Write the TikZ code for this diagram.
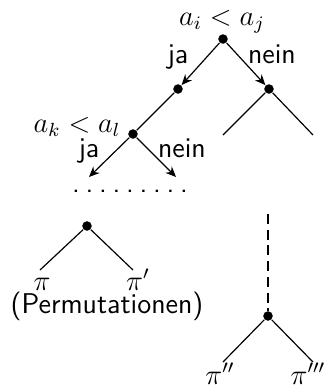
\documentclass[tikz,border=0pt]{standalone}
\usetikzlibrary{arrows.meta, positioning}
\tikzset{
  every picture/.style={font=\sffamily\fontsize{12}{14.4}\selectfont, line width=0.5pt},
  knot/.style={circle, fill=black, inner sep=0pt, minimum size=4pt},
  arrow/.style={-{Stealth[length=4.4pt, width=3.8pt]}},
  lbl/.style={anchor=base, inner sep=0pt},
}
\newcommand{\dotrow}{.\hspace{2.4pt}.\hspace{2.4pt}.\hspace{2.4pt}.\hspace{2.4pt}.\hspace{2.4pt}.\hspace{2.4pt}.\hspace{2.4pt}.\hspace{2.4pt}.}
\begin{document}
\begin{tikzpicture}[x=0.42pt, y=-0.42pt]
  \useasboundingbox (0,0) rectangle (329,385);
  % upper part of the tree
  \node[knot] (root) at (223,39) {};
  \node[knot] (yes1) at (178,89) {};
  \node[knot] (no1) at (269,89) {};
  \node[knot] (cmp2) at (133,134) {};
  \node[lbl] (q1) at (222,25) {$a_i < a_j$};
  \node[lbl] (ja1) at (178,63) {ja};
  \node[lbl] (nein1) at (272,63) {nein};
  \node[lbl] (q2) at (77,132) {$a_k < a_l$};
  \node[lbl] (ja2) at (89,157) {ja};
  \node[lbl] (nein2) at (182,157) {nein};
  \coordinate (no1l) at (223,135);
  \coordinate (no1r) at (313,135);
  \coordinate (yes2) at (89,177);
  \coordinate (no2) at (176,177);
  \draw[arrow] (root) -- (yes1);
  \draw[arrow] (root) -- (no1);
  \draw (yes1) -- (cmp2);
  \draw (no1l) -- (no1) -- (no1r);
  \draw[arrow] (cmp2) -- (yes2);
  \draw[arrow] (cmp2) -- (no2);
  \node[inner sep=0pt, anchor=base] (gap) at (130,192) {\dotrow};
  % leaves
  \node[knot] (leafa) at (87,226) {};
  \coordinate (leafal) at (40,270);
  \coordinate (leafar) at (133,270);
  \draw (leafal) -- (leafa) -- (leafar);
  \node[lbl] (pi1) at (42,290) {$\pi$};
  \node[lbl] (pi2) at (138,290) {$\pi'$};
  \node[lbl] (perm) at (107,313) {(Permutationen)};
  \coordinate (top) at (268,214);
  \node[knot] (leafb) at (268,316) {};
  \coordinate (leafbl) at (223,362);
  \coordinate (leafbr) at (313,362);
  \draw[dash pattern=on 4.2pt off 2.4pt] (top) -- (leafb);
  \draw (leafbl) -- (leafb) -- (leafbr);
  \node[lbl] (pi3) at (220,384) {$\pi''$};
  \node[lbl] (pi4) at (308,384) {$\pi'''$};
\end{tikzpicture}
\end{document}
